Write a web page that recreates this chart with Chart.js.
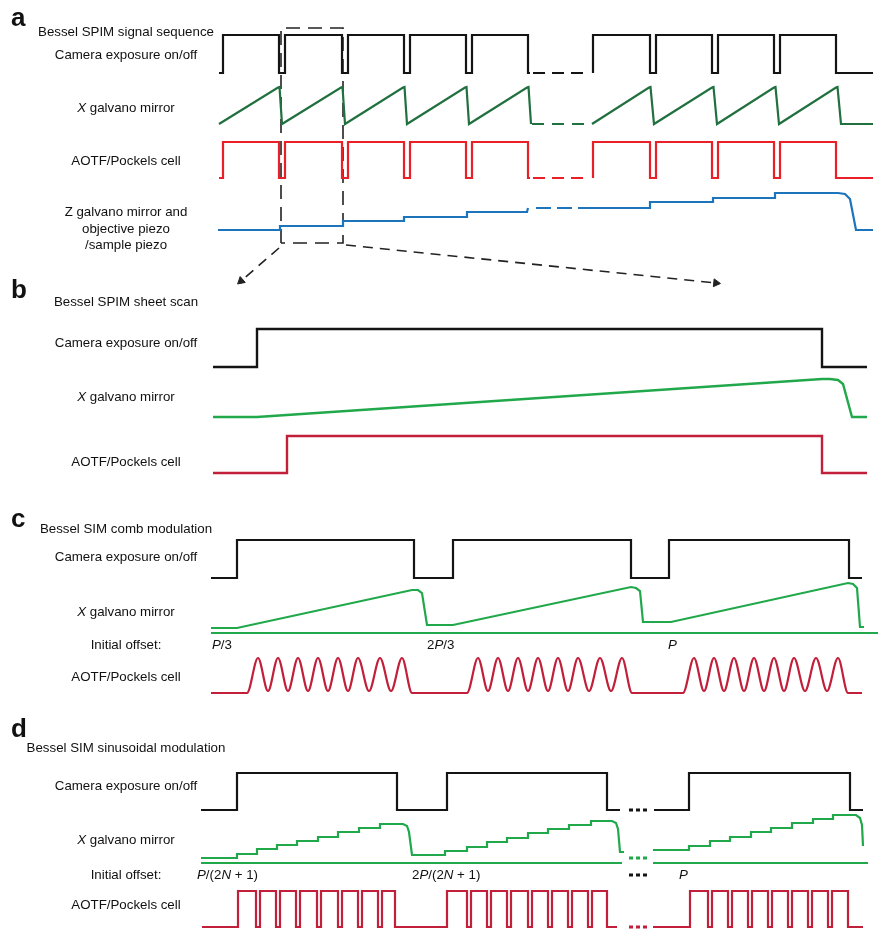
<!DOCTYPE html>
<html lang="en">
<head>
  <meta charset="UTF-8">
  <title>Bessel SPIM / SIM timing</title>
  <script src="https://cdn.jsdelivr.net/npm/chart.js"></script>
  <style>
    html, body { margin: 0; padding: 0; background: #fff; }
    #wrap { width: 881px; height: 930px; }
  </style>
</head>
<body>
<div id="wrap"><canvas id="timing" width="881" height="930"></canvas></div>
<script>
  // x = time along the sequence, y = signal level (both in the chart's own units)

  // ---- a: Bessel SPIM signal sequence ----
  const aEdgesFirst = [223, 279, 285, 342, 348, 404, 410, 466, 472, 528];
  const aEdgesSecond = [593, 650, 656, 712, 718, 774, 780, 836];
  const aCamLevels = [73, 35];
  const aAotfLevels = [178, 142];
  const aGalvoLevels = [124, 87];
  const aGalvoPeaksFirst = [279, 342, 404, 466, 528];
  const aGalvoPeaksSecond = [650, 713, 775, 837];
  const aZStepsFirst = [280, 343, 404, 467];
  const aZLevelsFirst = [230, 226, 221, 217, 212];
  const aZStepsSecond = [650, 713, 775];
  const aZLevelsSecond = [208, 202, 198, 193];
  const aZTail = [[838, 193], [845, 194], [850, 199], [856, 230], [873, 230]];

  // ---- b: Bessel SPIM sheet scan ----
  const bCamEdges = [257, 822];
  const bAotfEdges = [287, 822];
  const bCamLevels = [367, 329];
  const bAotfLevels = [473, 436];
  const bGalvo = [[213, 417], [257, 417], [822, 379], [830, 379], [838, 380], [843, 384], [852, 417], [867, 417]];

  // ---- c: Bessel SIM comb modulation ----
  const cCamEdges = [237, 414, 453, 631, 669, 849];
  const cCamLevels = [578, 540];
  const cGalvo = [[211, 628], [237, 628], [412, 590], [418, 590], [422, 593], [427, 625], [453, 625],
                  [631, 587], [636, 588], [640, 591], [643, 622], [671, 622],
                  [848, 583], [853, 584], [857, 588], [860, 627], [864, 627]];
  const cCombLevels = [693, 658, 691];   // base, crest, trough
  const cBursts = [[247, 412], [467, 632], [683, 848]];
  const cCrests = [[258, 278, 298, 318, 338, 358, 380, 402],
                   [478, 498, 518, 538, 558, 578, 600, 622],
                   [694, 714, 734, 754, 774, 794, 816, 838]];
  const cTroughs = [[268, 288, 308, 328, 348, 369, 391],
                    [488, 508, 528, 548, 568, 589, 611],
                    [704, 724, 744, 764, 784, 805, 827]];

  // ---- d: Bessel SIM sinusoidal modulation ----
  const dCamEdgesFirst = [237, 397, 447, 607];
  const dCamEdgesLast = [689, 850];
  const dCamLevels = [810, 773];
  const dStepsFirst = [237, 257, 277, 297, 318, 338, 359, 380];
  const dLevelsFirst = [858, 854, 849, 845, 841, 837, 832, 828, 824];
  const dStepsSecond = [445, 467, 487, 507, 528, 548, 569, 591];
  const dLevelsSecond = [855, 851, 847, 842, 838, 833, 829, 825, 821];
  const dStepsLast = [689, 710, 730, 751, 771, 792, 813, 833];
  const dLevelsLast = [850, 846, 841, 837, 832, 828, 823, 819, 815];
  const dAotfLevels = [927, 891];
  const dDipsFirst = [256, 276, 296, 317, 338, 358, 378];
  const dDipsSecond = [467, 487, 507, 528, 548, 568, 588];
  const dDipsLast = [708, 728, 748, 768, 788, 808, 828];

  // ---- texts ----
  const panelLetters = [['a', 11, 26], ['b', 11, 298], ['c', 11, 527], ['d', 11, 737]];
  const rowLabels = [
    ['Bessel SPIM signal sequence', 32], ['Camera exposure on/off', 55], ['*X* galvano mirror', 108],
    ['AOTF/Pockels cell', 161], ['Z galvano mirror and', 212], ['objective piezo', 229], ['/sample piezo', 245],
    ['Bessel SPIM sheet scan', 302], ['Camera exposure on/off', 343], ['*X* galvano mirror', 397], ['AOTF/Pockels cell', 462],
    ['Bessel SIM comb modulation', 529], ['Camera exposure on/off', 557], ['*X* galvano mirror', 612],
    ['Initial offset:', 645], ['AOTF/Pockels cell', 677],
    ['Bessel SIM sinusoidal modulation', 748], ['Camera exposure on/off', 786], ['*X* galvano mirror', 840],
    ['Initial offset:', 875], ['AOTF/Pockels cell', 905]
  ];
  const offsetLabels = [['*P*/3', 212, 645], ['2*P*/3', 427, 645], ['*P*', 668, 645],
                        ['*P*/(2*N* + 1)', 197, 875], ['2*P*/(2*N* + 1)', 412, 875], ['*P*', 679, 875]];

  const BLACK = '#141414', DARKGREEN = '#21703f', RED = '#ea1f27', BLUE = '#1c74bc';
  const GREEN = '#20a84b', CRIMSON = '#c11f3a';

  function pt(p) { return {x: p[0], y: p[1]}; }

  function square(x0, edges, x1, levels) {
    const lo = levels[0], hi = levels[1];
    let level = lo;
    const pts = [{x: x0, y: lo}];
    edges.forEach(e => {
      pts.push({x: e, y: level});
      level = level === lo ? hi : lo;
      pts.push({x: e, y: level});
    });
    pts.push({x: x1, y: level});
    return pts;
  }

  function saw(x0, peaks, drop, levels, x1) {
    const pts = [{x: x0, y: levels[0]}];
    peaks.forEach(p => pts.push({x: p - 1, y: levels[1] + 0.5}, {x: p + 0.5, y: levels[1]}, {x: p + drop, y: levels[0]}));
    if (x1) pts.push({x: x1, y: levels[0]});
    return pts;
  }

  function stairs(x0, steps, levels, x1) {
    const pts = [{x: x0, y: levels[0]}];
    steps.forEach((s, i) => pts.push({x: s, y: levels[i]}, {x: s, y: levels[i + 1]}));
    pts.push({x: x1, y: levels[levels.length - 1]});
    return pts;
  }

  function pulses(rise, dips, fall) {
    const e = [rise];
    dips.forEach(d => e.push(d, d + 4));
    e.push(fall);
    return e;
  }

  function comb(i) {
    const [base, crest, trough] = cCombLevels;
    const pts = [{x: cBursts[i][0], y: base}];
    cCrests[i].forEach((c, k) => {
      pts.push({x: c, y: crest});
      if (k < cTroughs[i].length) pts.push({x: cTroughs[i][k], y: trough});
    });
    pts.push({x: cBursts[i][1], y: base});
    return pts;
  }

  function line(data, color, width, extra) {
    return Object.assign({
      data: data, showLine: true, fill: false, tension: 0,
      borderColor: color, backgroundColor: color, borderWidth: width || 2.2,
      pointRadius: 0, borderJoinStyle: 'miter'
    }, extra || {});
  }

  const dash = {borderDash: [12, 7]};
  const dots = {borderDash: [4, 3]};
  const arrowHead = {borderDash: [10, 7], pointRadius: [0, 4.5], pointStyle: 'triangle',
                     pointBackgroundColor: '#222', pointBorderColor: '#222', pointBorderWidth: 1};

  const datasets = [
    // a
    line(square(219, aEdgesFirst, 530, aCamLevels), BLACK),
    line([{x: 533, y: 73}, {x: 583, y: 73}], BLACK, 2.2, dash),
    line(square(593, aEdgesSecond, 873, aCamLevels), BLACK),
    line(saw(219, aGalvoPeaksFirst, 3, aGalvoLevels), DARKGREEN),
    line([{x: 532, y: 124}, {x: 590, y: 124}], DARKGREEN, 2.2, {borderDash: [12, 8]}),
    line(saw(592, aGalvoPeaksSecond, 4, aGalvoLevels, 873), DARKGREEN),
    line(square(219, aEdgesFirst, 530, aAotfLevels), RED),
    line([{x: 533, y: 178}, {x: 583, y: 178}], RED, 2.2, dash),
    line(square(593, aEdgesSecond, 873, aAotfLevels), RED),
    line(stairs(218, aZStepsFirst, aZLevelsFirst, 527).concat([{x: 528, y: 208}]), BLUE),
    line([{x: 536, y: 208}, {x: 590, y: 208}], BLUE, 2.2, {borderDash: [15, 6]}),
    line(stairs(590, aZStepsSecond, aZLevelsSecond, 838).concat(aZTail.map(pt)), BLUE),
    // zoom box and arrows
    line([{x: 281, y: 243}, {x: 281, y: 28}, {x: 343, y: 28}, {x: 343, y: 243}, {x: 281, y: 243}],
         '#222', 1.6, {borderDash: [14, 8]}),
    line([{x: 279, y: 248}, {x: 241, y: 281}], '#222', 1.6, Object.assign({rotation: [0, 229]}, arrowHead)),
    line([{x: 346, y: 245}, {x: 716, y: 283}], '#222', 1.6, Object.assign({rotation: [0, 96]}, arrowHead)),
    // b
    line(square(213, bCamEdges, 867, bCamLevels), BLACK, 2.4),
    line(bGalvo.map(pt), GREEN, 2.4),
    line(square(213, bAotfEdges, 867, bAotfLevels), CRIMSON, 2.4),
    // c
    line(square(211, cCamEdges, 862, cCamLevels), BLACK),
    line(cGalvo.map(pt), GREEN),
    line([{x: 211, y: 633}, {x: 878, y: 633}], GREEN, 1.8),
    line([{x: 211, y: 693}].concat(comb(0), comb(1), comb(2), [{x: 862, y: 693}]), CRIMSON, 2.2,
         {cubicInterpolationMode: 'monotone'}),
    // d
    line(square(201, dCamEdgesFirst, 620, dCamLevels), BLACK),
    line([{x: 629, y: 810}, {x: 647, y: 810}], BLACK, 3, dots),
    line(square(654, dCamEdgesLast, 863, dCamLevels), BLACK),
    line(stairs(201, dStepsFirst, dLevelsFirst, 403)
           .concat([{x: 407, y: 826}, {x: 409, y: 832}, {x: 412, y: 855}])
           .concat(stairs(412, dStepsSecond, dLevelsSecond, 612))
           .concat([{x: 616, y: 823}, {x: 618, y: 829}, {x: 620, y: 852}, {x: 624, y: 852}]), GREEN),
    line([{x: 629, y: 858}, {x: 647, y: 858}], GREEN, 3, dots),
    line(stairs(653, dStepsLast, dLevelsLast, 856)
           .concat([{x: 860, y: 818}, {x: 862, y: 825}, {x: 863, y: 846}]), GREEN),
    line([{x: 201, y: 863}, {x: 622, y: 863}], GREEN, 1.8),
    line([{x: 653, y: 863}, {x: 868, y: 863}], GREEN, 1.8),
    line([{x: 629, y: 875}, {x: 647, y: 875}], BLACK, 3, dots),
    line(square(202, pulses(238, dDipsFirst, 395).concat(pulses(447, dDipsSecond, 607)), 617, dAotfLevels), CRIMSON),
    line([{x: 629, y: 927}, {x: 647, y: 927}], CRIMSON, 3, dots),
    line(square(653, pulses(690, dDipsLast, 848), 863, dAotfLevels), CRIMSON)
  ];

  const LABEL_FONT = '"Liberation Sans", Arial, sans-serif';

  function richRuns(text) {
    return text.split('*').map((t, k) => ({t: t, italic: k % 2 === 1})).filter(r => r.t.length);
  }

  function drawRich(ctx, text, x, y, align) {
    const runs = richRuns(text);
    const fontOf = r => (r.italic ? 'italic ' : '') + '13.3px ' + LABEL_FONT;
    let total = 0;
    runs.forEach(r => { ctx.font = fontOf(r); r.w = ctx.measureText(r.t).width; total += r.w; });
    let cx = align === 'center' ? x - total / 2 : x;
    runs.forEach(r => { ctx.font = fontOf(r); ctx.fillText(r.t, cx, y); cx += r.w; });
  }

  const textPlugin = {
    id: 'texts',
    afterDatasetsDraw(chart) {
      const ctx = chart.ctx, xs = chart.scales.x, ys = chart.scales.y;
      ctx.save();
      ctx.fillStyle = '#111';
      ctx.textAlign = 'left';
      ctx.textBaseline = 'alphabetic';
      ctx.font = 'bold 26px ' + LABEL_FONT;
      panelLetters.forEach(([t, x, y]) => ctx.fillText(t, xs.getPixelForValue(x), ys.getPixelForValue(y)));
      ctx.textBaseline = 'middle';
      rowLabels.forEach(([t, y]) => drawRich(ctx, t, xs.getPixelForValue(126), ys.getPixelForValue(y), 'center'));
      offsetLabels.forEach(([t, x, y]) => drawRich(ctx, t, xs.getPixelForValue(x), ys.getPixelForValue(y), 'left'));
      ctx.restore();
    }
  };

  new Chart(document.getElementById('timing'), {
    type: 'scatter',
    data: { datasets: datasets },
    options: {
      responsive: false,
      animation: false,
      events: [],
      layout: { padding: 0, autoPadding: false },
      scales: {
        x: { type: 'linear', min: 0, max: 881, display: false },
        y: { type: 'linear', min: 0, max: 930, reverse: true, display: false }
      },
      plugins: { legend: { display: false }, tooltip: { enabled: false } }
    },
    plugins: [textPlugin]
  });
</script>
</body>
</html>
